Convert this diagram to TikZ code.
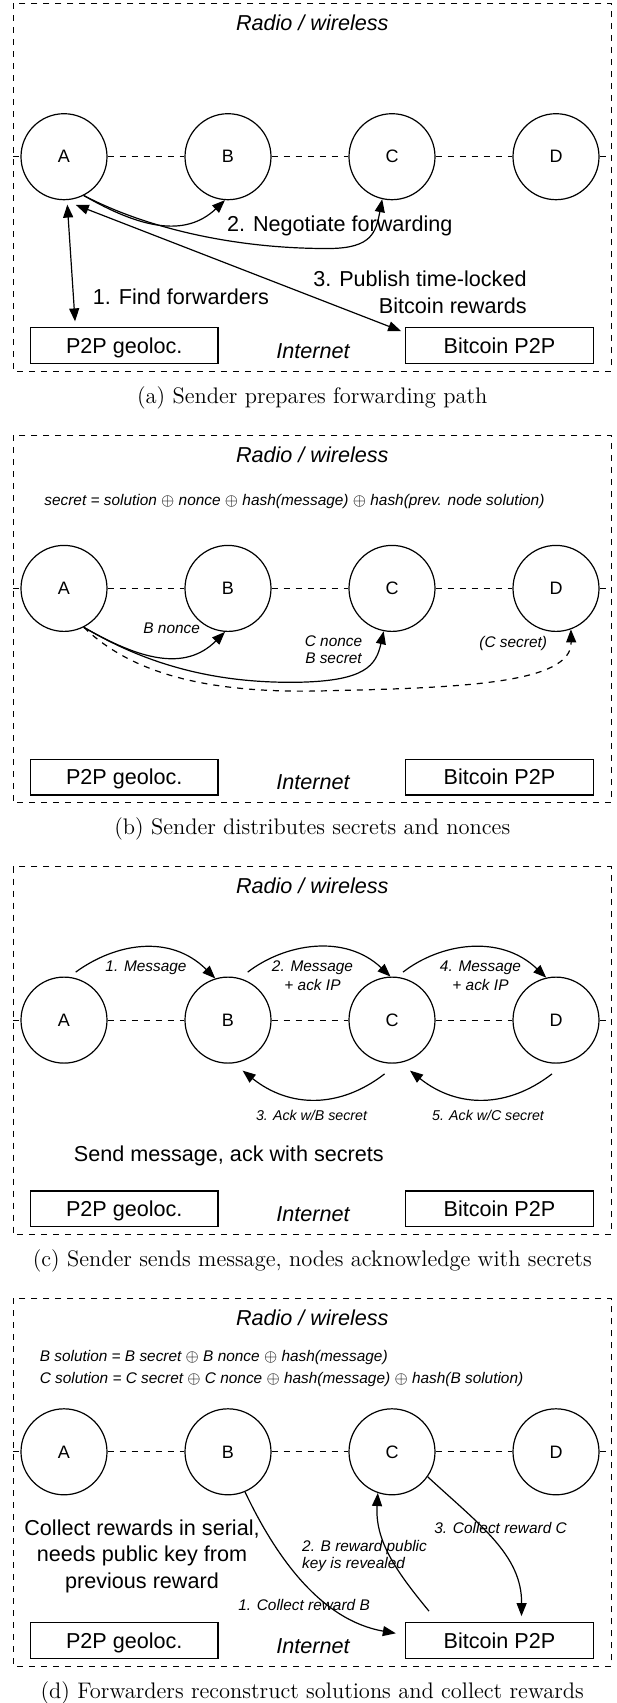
\documentclass[tikz,border=0pt]{standalone}
\usepackage{fontspec}
\setsansfont{Liberation Sans}
\usetikzlibrary{arrows.meta, positioning}
\tikzset{
    peer/.style={
        circle,
        draw,
        line width=0.6pt,
        minimum size=43pt,
        inner sep=0pt,
        font=\sffamily\fontsize{9}{10}\selectfont
    },
    netbox/.style={
        rectangle,
        draw,
        line width=0.6pt,
        minimum width=93.75pt,
        minimum height=17.9pt,
        inner sep=0pt,
        text depth=0pt,
        font=\sffamily\fontsize{10.8}{13}\selectfont
    },
    zonetext/.style={inner sep=0pt, font=\sffamily\itshape\fontsize{10.8}{13}\selectfont},
    biglabel/.style={inner sep=0pt, font=\sffamily\fontsize{10.8}{13.3}\selectfont},
    smalllabel/.style={inner sep=0pt, font=\sffamily\itshape\fontsize{7.7}{8.35}\selectfont},
    acklabel/.style={inner sep=0pt, font=\sffamily\itshape\fontsize{7.1}{8}\selectfont},
    captext/.style={inner sep=0pt, font=\fontsize{11.25}{13}\selectfont},
    zoneframe/.style={dash pattern=on 3pt off 3pt, line width=0.5pt},
    radiolink/.style={dash pattern=on 3pt off 3pt, line width=0.5pt},
    msg/.style={-{Triangle[length=6.5pt,width=5pt]}, line width=0.6pt},
    dblmsg/.style={{Triangle[length=6.5pt,width=5pt]}-{Triangle[length=6.5pt,width=5pt]}, line width=0.6pt}
}

\begin{document}
\begin{tikzpicture}[x=0.5pt, y=-0.5pt]
    \useasboundingbox (0,0) rectangle (616,1703);

    % common parts of the four panels
    \foreach \p/\txt [count=\i from 0] in {a/{(a) Sender prepares forwarding path},
        b/{(b) Sender distributes secrets and nonces},
        c/{(c) Sender sends message, nodes acknowledge with secrets},
        d/{(d) Forwarders reconstruct solutions and collect rewards}} {
      \begin{scope}[shift={(0,431.7*\i)}]
        \draw[zoneframe] (13,3.3) rectangle (611.5,371);
        \node[zonetext, anchor=base] (\p radio) at (312.25,30.5) {Radio / wireless};
        \node[peer] (\p A) at (64,156.7) {A};
        \node[peer] (\p B) at (228,156.7) {B};
        \node[peer] (\p C) at (392,156.7) {C};
        \node[peer] (\p D) at (556,156.7) {D};
        \coordinate (\p L) at (13,156.7);
        \coordinate (\p R) at (611.5,156.7);
        \draw[radiolink] (\p L) -- (\p A) -- (\p B) -- (\p C) -- (\p D) -- (\p R);
        \node[netbox] (\p geo) at (124.25,345.4) {P2P geoloc.};
        \node[netbox] (\p btc) at (499.5,345.4) {Bitcoin P2P};
        \node[zonetext, anchor=base] (\p net) at (313,358) {Internet};
        \node[captext, anchor=base] (\p cap) at (312.25,403) {\txt};
      \end{scope}
    }

    % (a) prepare path
    \draw[dblmsg, shorten <=2.2pt] (aA.-86) -- ([shift={(-24.6pt,2.75pt)}]ageo.north);
    \draw[msg] (aA.-63) .. controls (140,228) and (185,238) .. (aB.-94);
    \draw[msg] (aA.-63) .. controls (150,230) and (240,249) .. (330,248.5) .. controls (372,248) and (376,232) .. (aC.-103);
    \draw[dblmsg, shorten <=6.3pt] (aA.south) -- ([shift={(-2pt,-2.1pt)}]abtc.north west);
    \node[biglabel, anchor=base west] (afind) at (92.5,304) {1. Find forwarders};
    \node[biglabel, anchor=base west] (anego) at (226.7,231.7) {2. Negotiate forwarding};
    \node[biglabel, align=right, anchor=base east] (apub) at (527,313) {3. Publish time-locked\\Bitcoin rewards};

    % (b) secrets and nonces
    \begin{scope}[shift={(0,431.7)}]
      \node[smalllabel, anchor=base west] (bformula) at (44,73.3) {secret = solution $\oplus$ nonce $\oplus$ hash(message) $\oplus$ hash(prev. node solution)};
      \draw[msg] (bA.-63) .. controls (140,228) and (185,240) .. (bB.-94);
      \draw[msg] (bA.-63) .. controls (150,235) and (220,252) .. (300,250.5) .. controls (365,249) and (376,234) .. (bC.-101);
      \draw[msg, dash pattern=on 3pt off 3pt] (bA.-63) .. controls (140,250) and (230,262) .. (330,259) .. controls (460,256) and (572,252) .. (bD.-70);
      \node[smalllabel, anchor=base west] (bnonce) at (143,201.6) {B nonce};
      \node[smalllabel, align=center, anchor=base] (bcnonce) at (333.5,231.6) {C nonce\\B secret};
      \node[smalllabel, anchor=base west] (bcsecret) at (479,215.6) {(C secret)};
    \end{scope}

    % (c) message and acks
    \begin{scope}[shift={(0,863.4)}]
      \draw[msg] ([shift={(5.85pt,2.2pt)}]cA.north) .. controls (115,80) and (170,70) .. (cB.107);
      \draw[msg] ([shift={(9.85pt,2.2pt)}]cB.north) .. controls (285,80) and (345,70) .. (cC.92);
      \draw[msg] ([shift={(5.5pt,2.2pt)}]cC.north) .. controls (440,80) and (500,70) .. (cD.103);
      \draw[msg] ([shift={(-3.7pt,-5.1pt)}]cC.south) .. controls (340,245) and (290,245) .. ([shift={(7.3pt,-3.45pt)}]cB.south);
      \draw[msg] ([shift={(-2pt,-5.1pt)}]cD.south) .. controls (507.4,245) and (457.4,245) .. ([shift={(9pt,-3.45pt)}]cC.south);
      \node[smalllabel, anchor=base] (cmsg1) at (146,108.3) {1. Message};
      \node[smalllabel, align=center, anchor=base] (cmsg2) at (312.5,126.6) {2. Message\\[0.8pt]+ ack IP};
      \node[smalllabel, align=center, anchor=base] (cmsg4) at (480.5,126.6) {4. Message\\[0.8pt]+ ack IP};
      \node[acklabel, anchor=base] (cack3) at (311.5,257) {3. Ack w/B secret};
      \node[acklabel, anchor=base] (cack5) at (488,257) {5. Ack w/C secret};
      \node[biglabel, anchor=base] (csend) at (228.8,298.3) {Send message, ack with secrets};
    \end{scope}

    % (d) collect rewards
    \begin{scope}[shift={(0,1295.1)}]
      \node[smalllabel, anchor=base west] (dbsol) at (39.4,66.6) {B solution = B secret $\oplus$ B nonce $\oplus$ hash(message)};
      \node[smalllabel, anchor=base west] (dcsol) at (39.4,88.2) {C solution = C secret $\oplus$ C nonce $\oplus$ hash(message) $\oplus$ hash(B solution)};
      \node[biglabel, align=center, anchor=base] (dserial) at (142,293.2) {Collect rewards in serial,\\needs public key from\\previous reward};
      \draw[msg] (dB.-67) .. controls (275,260) and (320,325) .. ([shift={(-4.65pt,3.6pt)}]dbtc.west);
      \draw[msg] ([shift={(-35.25pt,5.45pt)}]dbtc.north) .. controls (395,275) and (375,245) .. (dC.-109);
      \draw[msg] (dC.-35) .. controls (480,230) and (522,260) .. ([shift={(11pt,2.95pt)}]dbtc.north);
      \node[smalllabel, anchor=base west] (dcol1) at (237.9,314.9) {1. Collect reward B};
      \node[smalllabel, align=left, anchor=base west] (dreveal) at (301.8,273.2) {2. B reward public\\key is revealed};
      \node[smalllabel, anchor=base west] (dcol3) at (434,238.2) {3. Collect reward C};
    \end{scope}
\end{tikzpicture}
\end{document}
